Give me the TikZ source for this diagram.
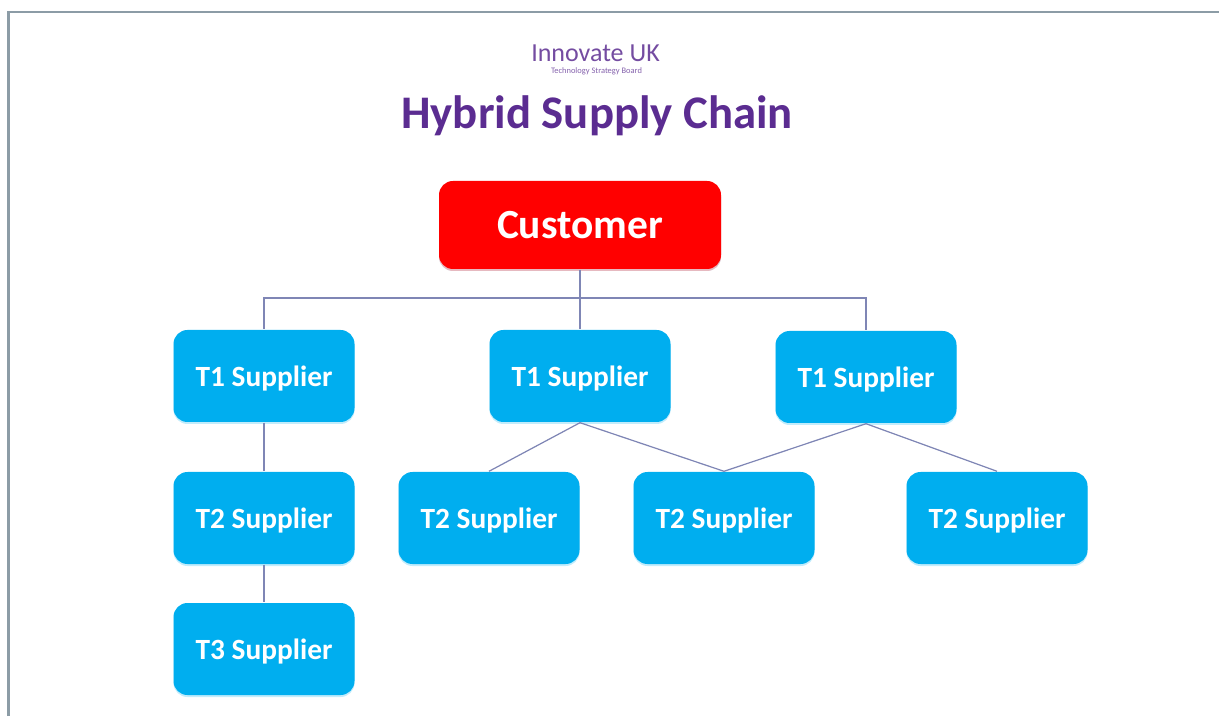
\documentclass[tikz,border=0pt]{standalone}
\usepackage{fontspec}
\setmainfont{Carlito}
\usetikzlibrary{positioning,shadows}
\definecolor{framegray}{HTML}{8C9CA6}
\definecolor{titlepurple}{HTML}{5B2C91}
\definecolor{boxblue}{HTML}{00AEEF}
\definecolor{custred}{HTML}{FF0000}
\definecolor{linegray}{HTML}{7F86B5}
\tikzstyle{box} = [rectangle, rounded corners=0.14cm, minimum width=1.81cm, minimum height=0.92cm, text centered, text depth=0pt, fill=boxblue, text=white, font=\fontsize{8.35}{9}\selectfont\bfseries, drop shadow={shadow xshift=0cm, shadow yshift=-0.02cm, fill=boxblue!40, opacity=0.6}]
\tikzstyle{box-red} = [box, minimum width=2.82cm, minimum height=0.88cm, fill=custred, font=\fontsize{11.8}{13}\selectfont\bfseries, drop shadow={shadow xshift=0cm, shadow yshift=-0.02cm, fill=custred!40, opacity=0.6}]
\tikzstyle{link} = [draw=linegray, line width=0.35pt]

\begin{document}
\begin{tikzpicture}
  \useasboundingbox (0,0) rectangle (12.19,7.16);
  \coordinate (frame-bl) at (0.085,0);
  \coordinate (frame-tl) at (0.085,7.04);
  \coordinate (frame-tr) at (12.19,7.04);
  \draw [framegray, line width=0.6pt] (frame-bl) -- (frame-tl) -- (frame-tr);

  \node (logo) [text=titlepurple!85, font=\fontsize{7.4}{8}\selectfont] at (5.955,6.63) {Innovate UK};
  \node (logo-sub) [text=titlepurple!75, font=\fontsize{2.4}{3}\selectfont] at (5.965,6.45) {Technology Strategy Board};
  \node (title) [text=titlepurple, font=\fontsize{13.3}{15}\selectfont\bfseries] at (5.97,6.00) {Hybrid Supply Chain};

  \node (customer) [box-red] at (5.80,4.91) {Customer};
  \coordinate (bus) at (5.80,4.18);
  \node (t1a) [box] at (2.64,3.40) {T1 Supplier};
  \node (t1b) [box] at (5.80,3.40) {T1 Supplier};
  \node (t1c) [box] at (8.66,3.39) {T1 Supplier};
  \node (t2d) [box, below of=t1a, node distance=1.42cm] {T2 Supplier};
  \node (t2a) [box] at (4.89,1.98) {T2 Supplier};
  \node (t2b) [box] at (7.24,1.98) {T2 Supplier};
  \node (t2c) [box] at (9.97,1.98) {T2 Supplier};
  \node (t3a) [box, below of=t2d, node distance=1.31cm] {T3 Supplier};

  \draw [link] (customer) -- (bus);
  \draw [link] (bus) -| (t1a);
  \draw [link] (bus) -- (t1b);
  \draw [link] (bus) -| (t1c);
  \draw [link] (t1a) -- (t2d);
  \draw [link] (t2d) -- (t3a);
  \draw [link] (t1b.south) -- (t2a.north);
  \draw [link] (t1b.south) -- (t2b.north);
  \draw [link] (t1c.south) -- (t2b.north);
  \draw [link] (t1c.south) -- (t2c.north);
\end{tikzpicture}
\end{document}
